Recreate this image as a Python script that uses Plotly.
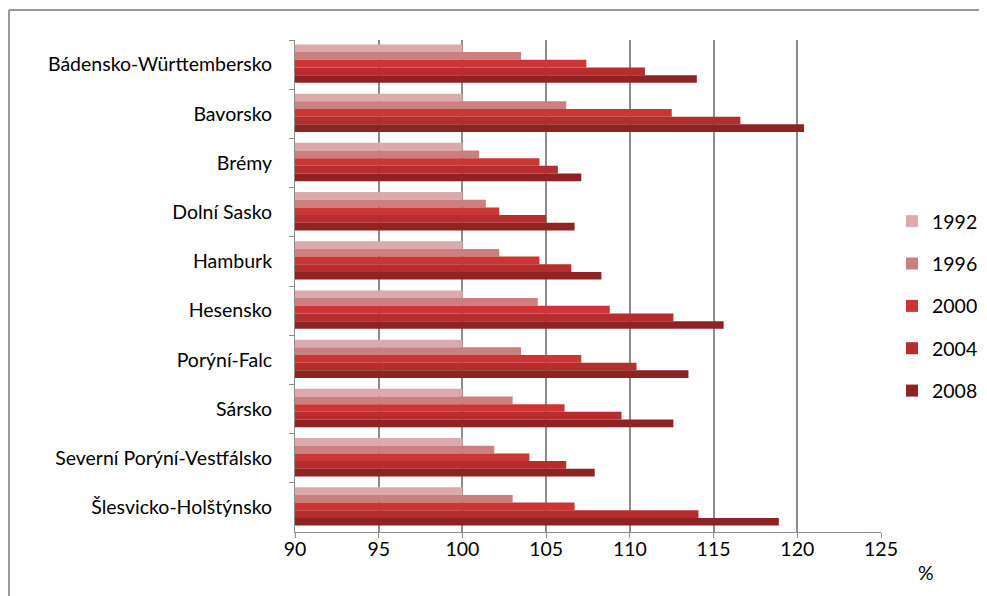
import plotly.graph_objects as go

categories = ["Bádensko-Württembersko", "Bavorsko", "Brémy", "Dolní Sasko", "Hamburk",
              "Hesensko", "Porýní-Falc", "Sársko", "Severní Porýní-Vestfálsko", "Šlesvicko-Holštýnsko"]
years = ["1992", "1996", "2000", "2004", "2008"]
v1992 = [100, 100, 100, 100, 100, 100, 100, 100, 100, 100]
v1996 = [103.5, 106.2, 101.0, 101.4, 102.2, 104.5, 103.5, 103.0, 101.9, 103.0]
v2000 = [107.4, 112.5, 104.6, 102.2, 104.6, 108.8, 107.1, 106.1, 104.0, 106.7]
v2004 = [110.9, 116.6, 105.7, 105.0, 106.5, 112.6, 110.4, 109.5, 106.2, 114.1]
v2008 = [114.0, 120.4, 107.1, 106.7, 108.3, 115.6, 113.5, 112.6, 107.9, 118.9]
series = [v1992, v1996, v2000, v2004, v2008]
colors = ["#dcaaaa", "#cc7f7f", "#cc3535", "#b52d2d", "#8e2323"]

bw = 0.156
fig = go.Figure()
for i, (y, vals, c) in enumerate(zip(years, series, colors)):
    fig.add_trace(go.Bar(y=categories, x=vals, name=y, orientation="h",
                         width=bw, offset=-0.41 + i * bw,
                         marker=dict(color=c, line=dict(width=0)),
                         legendgroup=y))

# page body has an 8px margin: figure is 979x588 placed at (8, 8)
W, H = 979, 588
L, T = 287, 32
PW, PH = 586, 492
font = "Lato, 'Open Sans', sans-serif"
fs = 19.5
fx = lambda px: (px - 295) / PW
fy = lambda py: (532 - py) / PH
fig.update_layout(
    width=W, height=H,
    margin=dict(l=L, r=W - L - PW, t=T, b=H - T - PH, autoexpand=False),
    paper_bgcolor="white", plot_bgcolor="white",
    barmode="overlay",
    font=dict(family=font, size=fs, color="#000000"),
    showlegend=True,
    legend=dict(x=fx(892), y=fy(306), xanchor="left", yanchor="middle",
                tracegroupgap=14, font=dict(size=fs), itemwidth=30,
                bgcolor="rgba(0,0,0,0)"),
    xaxis=dict(range=[90, 125], dtick=5, tick0=90, showgrid=True, automargin=False,
               gridcolor="#8c8c8c", gridwidth=2, zeroline=False,
               showline=True, linecolor="#8c8c8c", linewidth=1,
               ticks="outside", ticklen=5, tickcolor="#8c8c8c",
               ticklabelstandoff=-5, tickfont=dict(size=fs)),
    yaxis=dict(autorange="reversed", showline=True, linecolor="#8c8c8c", linewidth=1,
               automargin=False,
               ticks="outside", ticklen=5, tickcolor="#8c8c8c", tickson="boundaries",
               ticklabelstandoff=18, showgrid=False, tickfont=dict(size=fs)),
    shapes=[
        dict(type="line", xref="paper", yref="paper", x0=fx(9), x1=fx(990),
             y0=fy(10), y1=fy(10), line=dict(color="#999999", width=2), layer="below"),
        dict(type="line", xref="paper", yref="paper", x0=fx(9), x1=fx(9),
             y0=fy(10), y1=fy(600), line=dict(color="#999999", width=2), layer="below"),
    ],
    annotations=[dict(text="%", xref="paper", yref="paper", x=fx(926),
                      y=fy(572), showarrow=False, font=dict(size=fs),
                      xanchor="center", yanchor="middle")],
)
fig.write_html("out.html")
